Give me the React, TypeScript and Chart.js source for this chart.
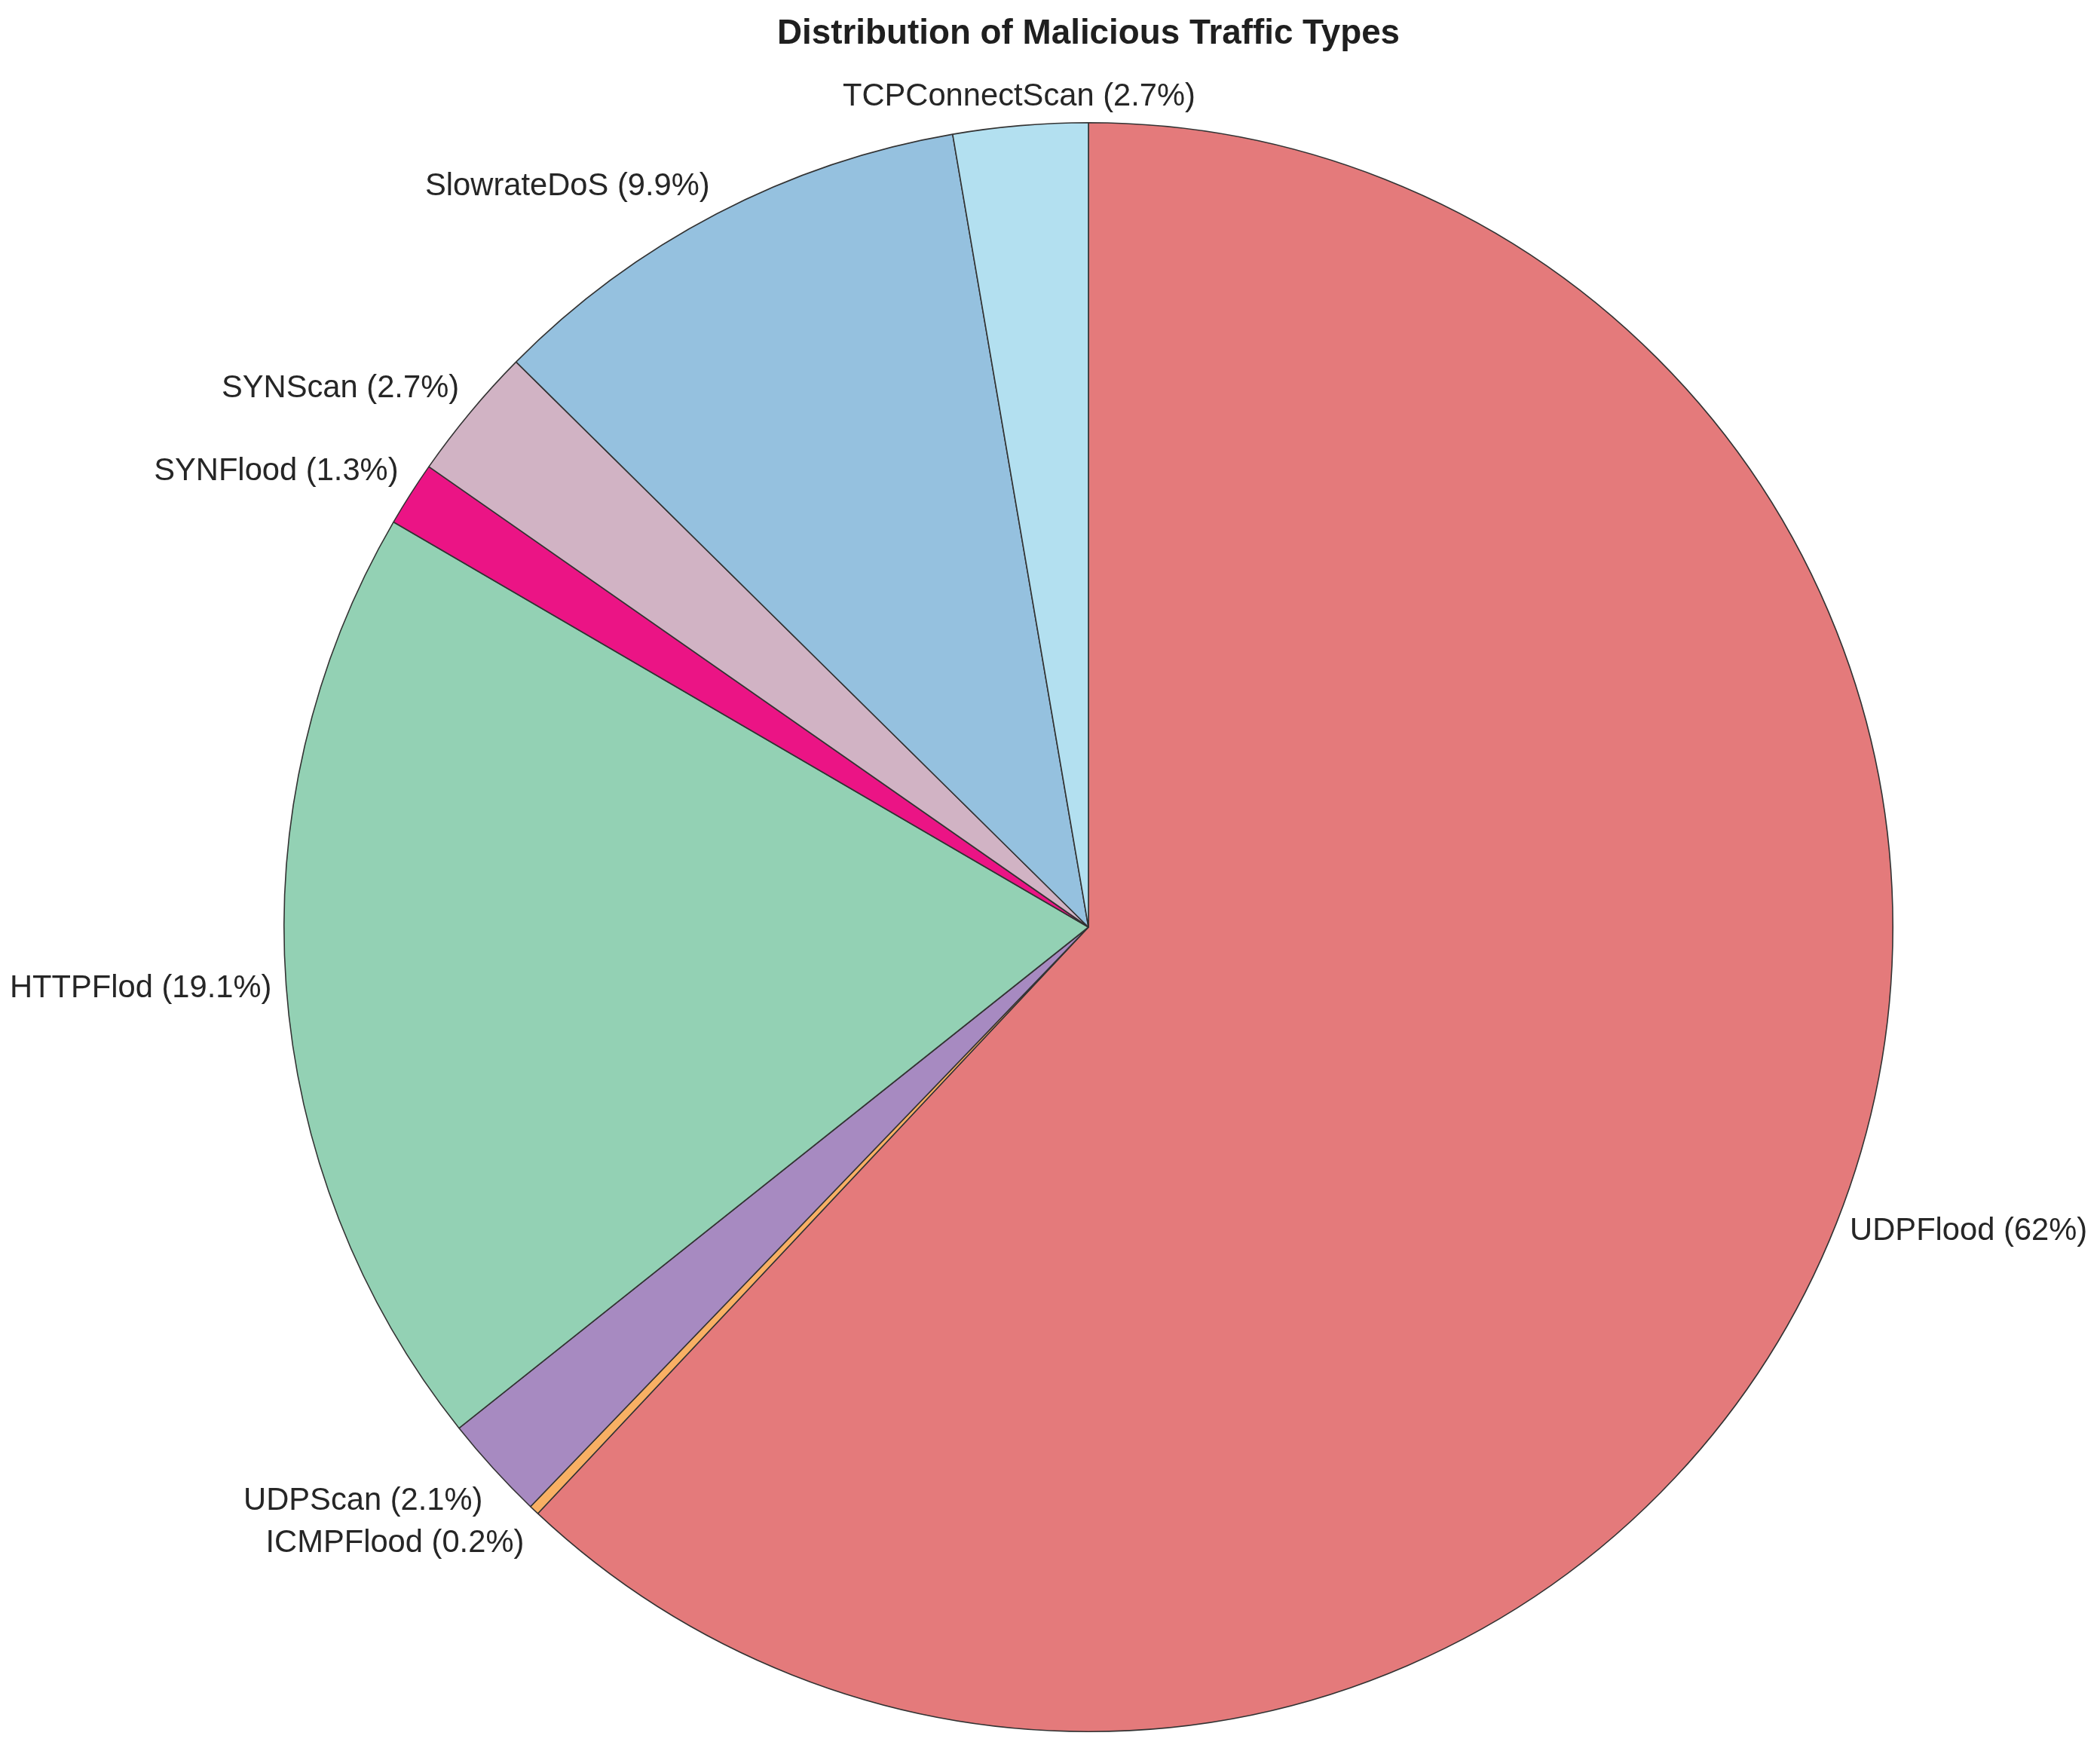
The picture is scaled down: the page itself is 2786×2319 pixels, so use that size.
import React, { useEffect, useRef } from "react";
import { Chart, registerables } from "chart.js";

Chart.register(...registerables);

const categories = [
  "UDPFlood",
  "ICMPFlood",
  "UDPScan",
  "HTTPFlod",
  "SYNFlood",
  "SYNScan",
  "SlowrateDoS",
  "TCPConnectScan",
];
const percentages = [62, 0.2, 2.1, 19.1, 1.3, 2.7, 9.9, 2.7];
const sliceColors = [
  "#E47A7B",
  "#F8B064",
  "#A78AC1",
  "#93D1B4",
  "#EB1485",
  "#D1B3C4",
  "#95C1DF",
  "#B3E0F0",
];
const chartTitle = "Distribution of Malicious Traffic Types";

const W = 2786;
const H = 2319;
const FONT = '"Liberation Sans", Arial, Helvetica, sans-serif';
const LABEL_SIZE = 41.7;
const TITLE_SIZE = 45.8;

const labelPlugin = {
  id: "pieLabels",
  afterDraw(chart: any) {
    const ctx = chart.ctx;
    const meta = chart.getDatasetMeta(0);
    ctx.save();
    // title
    ctx.fillStyle = "#1f1f1f";
    ctx.font = `bold ${TITLE_SIZE}px ${FONT}`;
    ctx.textAlign = "center";
    ctx.textBaseline = "alphabetic";
    const first = meta.data[0] as any;
    ctx.fillText(chartTitle, first.x, 58);

    ctx.fillStyle = "#262626";
    ctx.font = `${LABEL_SIZE}px ${FONT}`;
    meta.data.forEach((arc: any, i: number) => {
      const mid = (arc.startAngle + arc.endAngle) / 2;
      const d = arc.outerRadius * 1.018;
      const dx = Math.cos(mid);
      const dy = Math.sin(mid);
      const px = arc.x + dx * d;
      const py = arc.y + dy * d;
      let align: CanvasTextAlign = "center";
      if (dx > 0.1) align = "left";
      else if (dx < -0.1) align = "right";
      let baseline: number;
      if (dy < -0.5) baseline = py - 0.19 * LABEL_SIZE; // bottom-aligned (upper labels)
      else if (dy > 0.5) baseline = py + 1.0 * LABEL_SIZE; // top-aligned (lower labels)
      else baseline = py + 0.36 * LABEL_SIZE; // middle
      ctx.textAlign = align;
      ctx.fillText(`${categories[i]} (${percentages[i]}%)`, px, baseline);
    });
    ctx.restore();
  },
};

export default function App() {
  const ref = useRef<HTMLCanvasElement | null>(null);
  useEffect(() => {
    document.body.style.margin = "0";
    const canvas = ref.current!;
    const chart = new Chart(canvas, {
      type: "pie",
      data: {
        labels: categories,
        datasets: [
          {
            data: percentages,
            backgroundColor: sliceColors,
            borderColor: "#333333",
            borderWidth: 1.6,
            hoverOffset: 0,
          },
        ],
      },
      options: {
        responsive: false,
        animation: false,
        devicePixelRatio: 1,
        layout: { padding: { left: 376, right: 274, top: 162, bottom: 21 } },
        plugins: {
          legend: { display: false },
          title: { display: false },
          tooltip: { enabled: false },
        },
      },
      plugins: [labelPlugin],
    });
    return () => chart.destroy();
  }, []);
  return (
    <div style={{ width: W, height: H, background: "#ffffff" }}>
      <canvas ref={ref} width={W} height={H} style={{ display: "block", width: W, height: H }} />
    </div>
  );
}
